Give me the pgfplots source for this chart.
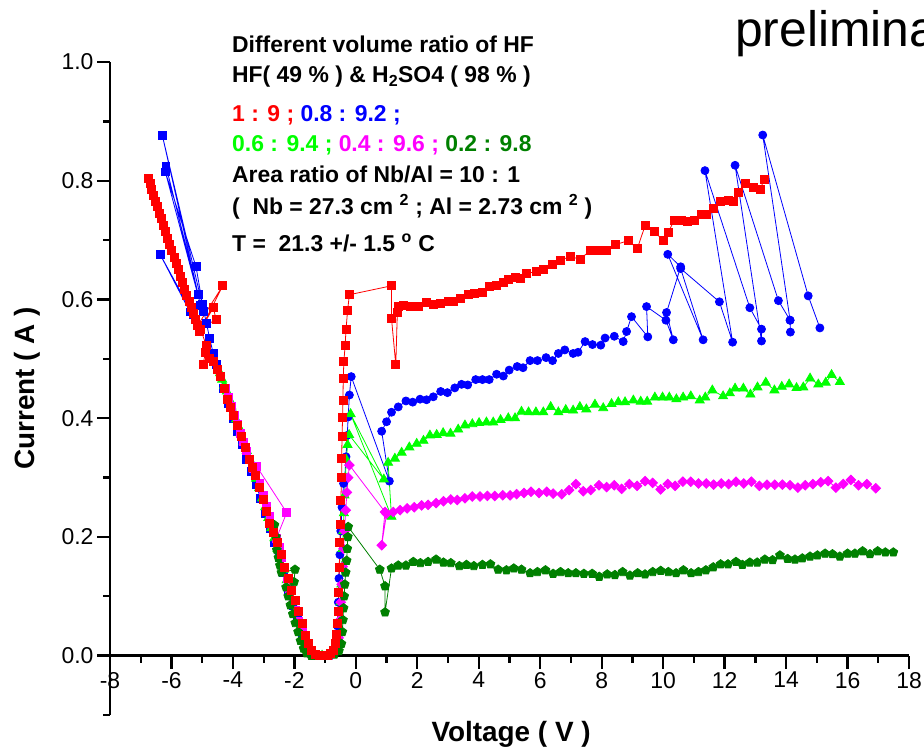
\documentclass[border=0pt]{standalone}
\usepackage{fontspec}
\setmainfont{Liberation Sans}
\usepackage{pgfplots}
\pgfplotsset{compat=1.18}
\definecolor{cred}{RGB}{255,0,0}
\definecolor{cblue}{RGB}{0,0,255}
\definecolor{cgreen}{RGB}{0,255,0}
\definecolor{cmag}{RGB}{255,0,255}
\definecolor{cdg}{RGB}{0,128,0}
\pgfplotsset{ser/.style={color=#1, line width=0.8bp, mark options={solid, fill=#1, draw=#1}}}
\begin{document}
\begin{tikzpicture}
\begin{axis}[
  at={(110bp,35bp)}, anchor=south west,
  scale only axis, width=799bp, height=653bp,
  xmin=-8, xmax=18, ymin=-0.1, ymax=1.0,
  axis x line=middle, axis y line=left,
  hide obscured x ticks=false,
  axis line style={-, black, line width=2.3bp},
  tick align=outside,
  xtick align=outside, ytick align=outside,
  major tick length=13bp, minor tick length=7bp,
  every tick/.style={black, line width=2.3bp},
  major tick style={black, line width=2.3bp},
  minor tick style={black, line width=2.3bp},
  xtick={-8,-6,-4,-2,0,2,4,6,8,10,12,14,16,18},
  xticklabels={-8,-6,-4,-2,0,2,4,6,8,10,12,14,16,18},
  minor xtick={-7,-5,-3,-1,1,3,5,7,9,11,13,15,17},
  ytick={0,0.2,0.4,0.6,0.8,1.0},
  yticklabels={0.0,0.2,0.4,0.6,0.8,1.0},
  minor ytick={-0.1,0.1,0.3,0.5,0.7,0.9},
  tick label style={font=\fontsize{23}{23}\selectfont},
  xlabel={Voltage ( V )}, ylabel={Current ( A )},
  every axis x label/.style={at={(axis description cs:0.502,-0.04)}, anchor=base, font=\fontsize{28}{28}\selectfont\bfseries},
  every axis y label/.style={at={(axis description cs:-0.104,0.5)}, rotate=90, anchor=center, font=\fontsize{28}{28}\selectfont\bfseries},
  clip=false,
]
% blue, left branch (squares)
\addplot[ser=cblue, mark=square*, mark size=3.9bp] table {
x y
-5.30 0.575
-6.37 0.676
-5.40 0.579
-5.00 0.592
-6.30 0.877
-5.13 0.608
-6.18 0.825
-5.05 0.590
-6.20 0.815
-5.20 0.655
-4.95 0.580
-4.86 0.560
-4.76 0.535
-4.64 0.509
-4.53 0.490
-4.42 0.470
-4.30 0.450
-4.15 0.425
-4.00 0.400
-3.85 0.378
-3.70 0.355
-3.55 0.330
-3.40 0.310
-3.25 0.288
-3.10 0.265
-2.95 0.240
-2.80 0.215
-2.65 0.190
-2.50 0.165
-2.35 0.140
-2.20 0.112
-2.05 0.085
-1.90 0.060
-1.75 0.036
-1.60 0.015
-1.45 0.004
-1.30 0.000
-1.10 0.000
-0.90 0.000
-0.75 0.005
-0.65 0.020
};
% blue, right branch (circles)
\addplot[ser=cblue, mark=*, mark size=4.0bp] table {
x y
-0.65 0.020
-0.60 0.050
-0.57 0.090
-0.55 0.130
-0.52 0.170
-0.49 0.210
-0.45 0.250
-0.40 0.290
-0.36 0.300
-0.32 0.335
-0.28 0.371
-0.25 0.402
-0.21 0.439
-0.15 0.470
1.09 0.294
0.84 0.378
1.00 0.394
1.16 0.410
1.38 0.419
1.63 0.429
1.85 0.427
2.09 0.432
2.30 0.431
2.52 0.436
2.76 0.445
2.98 0.443
3.22 0.451
3.44 0.457
3.64 0.456
3.90 0.465
4.12 0.465
4.34 0.465
4.58 0.474
4.80 0.471
4.99 0.481
5.25 0.487
5.44 0.485
5.67 0.497
5.91 0.497
6.19 0.502
6.40 0.497
6.59 0.509
6.80 0.515
7.07 0.509
7.23 0.511
7.46 0.529
7.70 0.524
7.97 0.523
8.11 0.535
8.41 0.538
8.70 0.529
8.81 0.546
8.97 0.571
9.50 0.537
9.46 0.588
10.09 0.565
10.33 0.532
10.11 0.578
10.57 0.655
10.15 0.676
11.30 0.532
10.57 0.652
11.83 0.596
12.26 0.528
11.36 0.817
12.82 0.586
13.20 0.550
13.20 0.530
12.34 0.826
13.75 0.598
14.13 0.565
14.14 0.545
14.13 0.565
13.24 0.877
14.72 0.606
15.10 0.552
};
% green (triangles)
\addplot[ser=cgreen, mark=triangle*, mark size=5.2bp] table {
x y
-4.42 0.476
-4.35 0.465
-4.28 0.455
-4.20 0.445
-4.12 0.432
-4.05 0.420
-3.97 0.410
-3.90 0.398
-3.82 0.386
-3.75 0.375
-3.65 0.360
-3.55 0.345
-3.45 0.330
-3.35 0.314
-3.25 0.298
-3.15 0.282
-3.05 0.265
-2.95 0.250
-2.85 0.232
-2.75 0.215
-2.65 0.198
-2.55 0.180
-2.45 0.163
-2.35 0.145
-2.25 0.127
-2.15 0.108
-2.05 0.090
-1.95 0.072
-1.85 0.055
-1.75 0.038
-1.65 0.022
-1.55 0.010
-1.45 0.003
-1.30 0.000
-1.10 0.000
-0.90 0.000
-0.75 0.004
-0.65 0.012
-0.58 0.030
-0.53 0.060
-0.50 0.090
-0.47 0.120
-0.45 0.150
-0.43 0.180
-0.41 0.210
-0.39 0.240
-0.37 0.270
-0.34 0.300
-0.31 0.330
-0.27 0.355
-0.22 0.372
0.91 0.297
-0.17 0.407
1.16 0.234
1.05 0.325
1.27 0.332
1.49 0.342
1.74 0.351
1.98 0.357
2.20 0.362
2.41 0.371
2.63 0.372
2.84 0.375
3.08 0.374
3.33 0.381
3.55 0.388
3.79 0.390
4.01 0.392
4.25 0.393
4.47 0.393
4.71 0.397
4.96 0.400
5.18 0.400
5.39 0.411
5.62 0.410
5.86 0.410
6.10 0.410
6.34 0.419
6.59 0.410
6.83 0.414
7.07 0.413
7.29 0.419
7.50 0.415
7.78 0.423
8.05 0.417
8.32 0.424
8.54 0.427
8.76 0.427
9.03 0.430
9.27 0.428
9.48 0.428
9.73 0.435
9.98 0.435
10.20 0.435
10.43 0.432
10.65 0.435
10.90 0.437
11.19 0.430
11.37 0.435
11.60 0.447
11.95 0.437
12.17 0.442
12.34 0.450
12.61 0.450
12.84 0.440
13.07 0.452
13.34 0.460
13.62 0.447
13.86 0.453
14.10 0.457
14.34 0.451
14.56 0.452
14.78 0.467
15.05 0.457
15.29 0.460
15.48 0.473
15.75 0.461
};
% magenta, left branch (squares)
\addplot[ser=cmag, mark=square*, mark size=3.9bp] table {
x y
-4.25 0.450
-4.15 0.435
-4.05 0.420
-3.95 0.405
-3.85 0.390
-3.75 0.375
-3.65 0.360
-3.55 0.345
-3.45 0.330
-3.35 0.316
-3.23 0.319
-2.25 0.241
-2.59 0.197
-3.12 0.290
-3.00 0.270
-2.90 0.252
-2.80 0.235
-2.70 0.215
-2.60 0.198
-2.50 0.182
-2.42 0.165
-2.33 0.148
-2.24 0.130
-2.15 0.112
-2.05 0.094
-1.95 0.076
-1.85 0.058
-1.75 0.040
-1.65 0.024
-1.55 0.012
-1.45 0.004
-1.30 0.000
-1.10 0.000
-0.90 0.000
-0.75 0.003
-0.62 0.010
};
% magenta, right branch (diamonds)
\addplot[ser=cmag, mark=square*, mark size=3.4bp, mark options={rotate=45}] table {
x y
-0.62 0.010
-0.56 0.030
-0.52 0.060
-0.49 0.090
-0.46 0.120
-0.43 0.150
-0.40 0.180
-0.37 0.210
-0.33 0.245
-0.29 0.275
-0.25 0.300
-0.21 0.321
0.95 0.242
0.84 0.186
1.00 0.239
1.22 0.242
1.44 0.245
1.67 0.248
1.90 0.250
2.14 0.253
2.35 0.254
2.61 0.257
2.85 0.260
3.09 0.263
3.30 0.262
3.55 0.265
3.79 0.268
4.04 0.268
4.28 0.269
4.52 0.269
4.78 0.270
5.02 0.270
5.23 0.272
5.47 0.274
5.70 0.276
5.96 0.274
6.21 0.276
6.42 0.273
6.70 0.272
6.94 0.279
7.16 0.289
7.40 0.277
7.64 0.279
7.91 0.287
8.16 0.284
8.41 0.287
8.65 0.281
8.90 0.289
9.15 0.286
9.41 0.294
9.66 0.291
9.92 0.280
10.15 0.289
10.39 0.286
10.64 0.293
10.90 0.293
11.15 0.290
11.40 0.290
11.64 0.288
11.89 0.290
12.13 0.289
12.37 0.293
12.62 0.290
12.87 0.293
13.13 0.286
13.38 0.288
13.63 0.288
13.88 0.288
14.13 0.287
14.38 0.283
14.62 0.287
14.87 0.289
15.13 0.292
15.37 0.294
15.62 0.283
15.86 0.289
16.11 0.296
16.36 0.287
16.63 0.289
16.92 0.282
};
% dark green (pentagons)
\addplot[ser=cdg, mark=pentagon*, mark size=4.6bp] table {
x y
-2.65 0.220
-2.60 0.200
-2.57 0.178
-2.52 0.165
-2.47 0.152
-2.42 0.140
-1.98 0.145
-2.01 0.124
-2.27 0.115
-2.20 0.100
-2.13 0.085
-2.05 0.070
-1.97 0.055
-1.88 0.040
-1.80 0.025
-1.70 0.012
-1.60 0.004
-1.45 0.000
-1.30 0.000
-1.10 0.000
-0.90 0.000
-0.70 0.002
-0.55 0.008
-0.47 0.020
-0.44 0.040
-0.42 0.060
-0.40 0.080
-0.38 0.100
-0.36 0.120
-0.33 0.140
-0.30 0.160
-0.28 0.180
-0.26 0.200
-0.25 0.217
0.78 0.145
0.95 0.117
0.95 0.073
1.16 0.147
1.38 0.152
1.63 0.152
1.87 0.158
2.10 0.156
2.35 0.158
2.61 0.162
2.85 0.157
3.09 0.156
3.37 0.151
3.60 0.153
3.84 0.151
4.12 0.153
4.38 0.154
4.63 0.145
4.90 0.144
5.14 0.147
5.39 0.145
5.67 0.139
5.91 0.141
6.17 0.144
6.42 0.138
6.66 0.141
6.91 0.139
7.16 0.139
7.42 0.138
7.69 0.138
7.92 0.133
8.18 0.137
8.43 0.136
8.68 0.141
8.92 0.135
9.17 0.139
9.41 0.137
9.66 0.141
9.92 0.143
10.17 0.141
10.42 0.139
10.66 0.144
10.91 0.139
11.15 0.141
11.39 0.144
11.63 0.149
11.87 0.154
12.11 0.154
12.37 0.158
12.58 0.153
12.82 0.157
13.06 0.157
13.31 0.162
13.56 0.161
13.80 0.169
14.05 0.163
14.29 0.162
14.53 0.164
14.78 0.167
15.02 0.169
15.27 0.172
15.51 0.171
15.75 0.167
16.00 0.172
16.24 0.172
16.49 0.176
16.73 0.171
16.98 0.176
17.23 0.174
17.49 0.174
};
% red (squares)
\addplot[ser=cred, mark=square*, mark size=4.0bp] table {
x y
-6.76 0.804
-6.70 0.796
-6.64 0.786
-6.58 0.775
-6.52 0.765
-6.46 0.756
-6.40 0.745
-6.34 0.736
-6.27 0.725
-6.20 0.714
-6.13 0.703
-6.06 0.692
-5.99 0.682
-5.92 0.671
-5.85 0.660
-5.78 0.650
-5.71 0.639
-5.64 0.628
-5.57 0.617
-5.50 0.607
-5.43 0.596
-5.36 0.586
-5.29 0.576
-5.22 0.566
-5.15 0.556
-4.33 0.623
-5.08 0.546
-4.64 0.586
-4.55 0.567
-5.05 0.549
-4.86 0.522
-4.97 0.490
-4.90 0.510
-4.76 0.500
-4.64 0.495
-4.52 0.482
-4.40 0.470
-4.29 0.450
-4.18 0.432
-4.08 0.418
-3.99 0.405
-3.85 0.387
-3.72 0.369
-3.60 0.350
-3.48 0.331
-3.37 0.317
-3.26 0.303
-3.13 0.283
-3.01 0.263
-2.90 0.243
-2.80 0.223
-2.68 0.207
-2.56 0.190
-2.43 0.170
-2.31 0.149
-2.20 0.130
-2.09 0.110
-1.98 0.093
-1.87 0.075
-1.75 0.055
-1.63 0.034
-1.53 0.020
-1.44 0.008
-1.32 0.002
-1.20 0.000
-1.07 0.000
-0.93 0.001
-0.83 0.003
-0.73 0.008
-0.66 0.020
-0.62 0.036
-0.60 0.055
-0.58 0.074
-0.56 0.107
-0.54 0.149
-0.52 0.190
-0.50 0.221
-0.49 0.262
-0.46 0.301
-0.46 0.332
-0.45 0.369
-0.43 0.402
-0.42 0.430
-0.41 0.467
-0.39 0.495
-0.35 0.522
-0.32 0.549
-0.27 0.581
-0.21 0.608
1.16 0.623
1.16 0.568
1.30 0.490
1.35 0.578
1.40 0.588
1.54 0.590
1.76 0.588
2.03 0.588
2.28 0.595
2.52 0.592
2.76 0.594
3.01 0.596
3.18 0.597
3.39 0.602
3.66 0.608
3.87 0.610
4.11 0.612
4.33 0.622
4.58 0.624
4.80 0.628
4.96 0.634
5.18 0.637
5.35 0.636
5.56 0.644
5.88 0.647
6.10 0.650
6.38 0.659
6.64 0.666
6.97 0.672
7.30 0.668
7.62 0.682
7.90 0.682
8.16 0.683
8.43 0.692
8.86 0.699
9.16 0.686
9.41 0.724
9.73 0.714
10.00 0.699
10.17 0.713
10.36 0.734
10.60 0.733
10.80 0.731
11.03 0.734
11.25 0.744
11.41 0.744
11.63 0.754
11.85 0.765
12.12 0.767
12.28 0.765
12.44 0.780
12.68 0.796
12.93 0.788
13.15 0.786
13.31 0.803
};
\end{axis}
\begin{scope}[every node/.style={anchor=base west, inner sep=0pt, font=\fontsize{23}{23}\selectfont\bfseries}]
\node at (232bp,697bp) {Different volume ratio of HF};
\node at (232bp,667bp) {HF( 49 \% ) \& H\textsubscript{2}SO4 ( 98 \% )};
\node at (232bp,628bp) {\textcolor{cred}{1 : 9 ;} \textcolor{cblue}{0.8 : 9.2 ;}};
\node at (232bp,598bp) {\textcolor{cgreen}{0.6 : 9.4 ;} \textcolor{cmag}{0.4 : 9.6 ;} \textcolor{cdg}{0.2 : 9.8}};
\node at (232bp,567bp) {Area ratio of Nb/Al = 10 : 1};
\node at (232bp,535bp) {(\ \ Nb = 27.3 cm \textsuperscript{2} ; Al = 2.73 cm \textsuperscript{2} )};
\node at (232bp,498bp) {T =\ \ 21.3 +/- 1.5 \textsuperscript{o} C};
\end{scope}
\node[anchor=base west, inner sep=0pt, font=\fontsize{50}{50}\selectfont] at (735bp,703bp) {preliminary};
\pgfresetboundingbox
\path[use as bounding box] (0,0) rectangle (924bp,750bp);
\end{tikzpicture}
\end{document}
